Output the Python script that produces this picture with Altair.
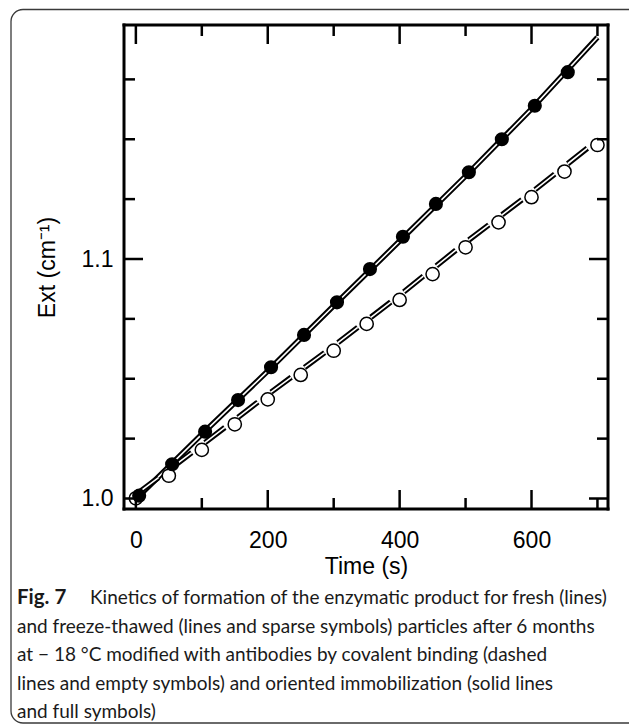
import altair as alt
import pandas as pd

# ---- data ----
filled_time = [5, 55, 105, 155, 205, 255, 305, 355, 405, 455, 505, 555, 605, 655]
filled_ext = [1.0012, 1.0143, 1.0279, 1.0411, 1.0548, 1.0683, 1.0819, 1.0958,
              1.1093, 1.1230, 1.1362, 1.1500, 1.1640, 1.1780]

empty_time = [0, 50, 100, 150, 200, 250, 300, 350, 400, 450, 500, 550, 600, 650, 700]
empty_ext = [1.0001, 1.0095, 1.0203, 1.0310, 1.0414, 1.0516, 1.0617, 1.0729,
             1.0829, 1.0937, 1.1049, 1.1153, 1.1258, 1.1365, 1.1476]

solid_time = [0, 100, 200, 300, 400, 500, 600, 700]
solid_ext = [0.9998, 1.0268, 1.0532, 1.0805, 1.1075, 1.1346, 1.1627, 1.1925]

dashed_time = [0, 100, 200, 300, 400, 500, 600, 700]
dashed_ext = [1.0016, 1.0223, 1.0434, 1.0637, 1.0849, 1.1069, 1.1278, 1.1496]

x_label_vals = [0, 200, 400, 600]
x_major = [0, 200, 400, 600]
x_minor = [100, 300, 500, 700]
y_label_vals = [1.0, 1.1]
y_major = [1.0, 1.1]
y_minor = [1.025, 1.05, 1.075, 1.125, 1.15, 1.175]

caption_bold = "Fig. 7"
caption_lines = [
    "Kinetics of formation of the enzymatic product for fresh (lines)",
    "and freeze-thawed (lines and sparse symbols) particles after 6 months",
    "at \u2212 18 \u00b0C modified with antibodies by covalent binding (dashed",
    "lines and empty symbols) and oriented immobilization (solid lines",
    "and full symbols)",
]

# ---- layout ----
W, H = 484, 484
AXF = "Liberation Sans"
CAPF = "Lato"

xs = alt.Scale(domain=[-18, 716], nice=False, zero=False)
ys = alt.Scale(domain=[0.99562, 1.1977], nice=False, zero=False)

xaxis = alt.Axis(values=x_label_vals, labelFont=AXF, labelFontSize=23, labelColor="black",
                 ticks=False, tickSize=0, domain=False, grid=False, labelPadding=20,
                 title="Time (s)", titleFont=AXF, titleFontSize=23, titleFontWeight="normal",
                 titleColor="black", titlePadding=3)
yaxis = alt.Axis(values=y_label_vals, format=".1f", labelFont=AXF, labelFontSize=23,
                 labelColor="black", ticks=False, tickSize=0, domain=False, grid=False,
                 labelPadding=11, title="Ext (cm\u207b\u00b9)", titleFont=AXF, titleFontSize=23,
                 titleFontWeight="normal", titleColor="black", titlePadding=22)


def X(f="t"):
    return alt.X(f, type="quantitative", scale=xs, axis=xaxis)


def Y(f="v"):
    return alt.Y(f, type="quantitative", scale=ys, axis=yaxis)


df_f = pd.DataFrame({"t": filled_time, "v": filled_ext})
df_e = pd.DataFrame({"t": empty_time, "v": empty_ext})
df_s = pd.DataFrame({"t": solid_time, "v": solid_ext})
df_d = pd.DataFrame({"t": dashed_time, "v": dashed_ext})
one = pd.DataFrame({"a": [0]})

border = alt.Chart(one).mark_rect(fillOpacity=0, stroke="#3a3a3a", strokeWidth=1.3,
                                  cornerRadius=12).encode(
    x=alt.value(-113), x2=alt.value(520), y=alt.value(-15.5), y2=alt.value(698))

solid_b = alt.Chart(df_s).mark_line(color="black", strokeWidth=5.5).encode(x=X(), y=Y())
solid_w = alt.Chart(df_s).mark_line(color="white", strokeWidth=1.6).encode(x=X(), y=Y())

dash = [25, 16.6]
dash_b = alt.Chart(df_d).mark_line(color="black", strokeWidth=5.5, strokeDash=dash,
                                   strokeDashOffset=38.3, strokeCap="butt").encode(x=X(), y=Y())
dash_w = alt.Chart(df_d).mark_line(color="white", strokeWidth=1.6, strokeDash=dash,
                                   strokeDashOffset=38.3, strokeCap="butt").encode(x=X(), y=Y())

pts_e = alt.Chart(df_e).mark_point(shape="circle", filled=True, fill="white", stroke="black",
                                   strokeWidth=1.5, size=175, opacity=1).encode(x=X(), y=Y())
pts_f = alt.Chart(df_f).mark_point(shape="circle", filled=True, color="black",
                                   size=200, opacity=1).encode(x=X(), y=Y())

# frame drawn as four rules
fw = 3
frame = [
    alt.Chart(one).mark_rule(color="black", strokeWidth=fw, strokeCap="square").encode(
        x=alt.value(0.01), x2=alt.value(W), y=alt.value(0.01)),
    alt.Chart(one).mark_rule(color="black", strokeWidth=fw, strokeCap="square").encode(
        x=alt.value(0.01), x2=alt.value(W), y=alt.value(H)),
    alt.Chart(one).mark_rule(color="black", strokeWidth=fw, strokeCap="square").encode(
        y=alt.value(0.01), y2=alt.value(H), x=alt.value(0.01)),
    alt.Chart(one).mark_rule(color="black", strokeWidth=fw, strokeCap="square").encode(
        y=alt.value(0.01), y2=alt.value(H), x=alt.value(W)),
]

tw = 2.5
MAJ, MIN = 19, 11
df_xM = pd.DataFrame({"t": x_major})
df_xm = pd.DataFrame({"t": x_minor})
df_yM = pd.DataFrame({"v": y_major})
df_ym = pd.DataFrame({"v": y_minor})

ticks = []
for dfx, ln in ((df_xM, MAJ), (df_xm, MIN)):
    ticks.append(alt.Chart(dfx).mark_rule(color="black", strokeWidth=tw).encode(
        x=X(), y=alt.value(H), y2=alt.value(H - ln)))
    ticks.append(alt.Chart(dfx).mark_rule(color="black", strokeWidth=tw).encode(
        x=X(), y=alt.value(0.01), y2=alt.value(ln)))
for dfy, ln in ((df_yM, MAJ), (df_ym, MIN)):
    ticks.append(alt.Chart(dfy).mark_rule(color="black", strokeWidth=tw).encode(
        y=Y(), x=alt.value(0.01), x2=alt.value(ln)))
    ticks.append(alt.Chart(dfy).mark_rule(color="black", strokeWidth=tw).encode(
        y=Y(), x=alt.value(W), x2=alt.value(W - ln)))

cap_x = 17 - 124
cap_y0 = 598 - 25
cap_dy = 28.5
caps = [alt.Chart(one).mark_text(align="left", baseline="middle", font=CAPF, fontSize=20.5,
                                 fontWeight="bold", color="#1a1a1a").encode(
    x=alt.value(cap_x), y=alt.value(cap_y0), text=alt.value(caption_bold))]
for i, line in enumerate(caption_lines):
    xx = 90 - 124 if i == 0 else cap_x
    caps.append(alt.Chart(one).mark_text(align="left", baseline="middle", font=CAPF,
                                         fontSize=19, color="#1a1a1a").encode(
        x=alt.value(xx), y=alt.value(cap_y0 + i * cap_dy), text=alt.value(line)))

chart = alt.layer(border, solid_b, solid_w, dash_b, dash_w, pts_e, pts_f, *frame, *ticks,
                  *caps).properties(
    width=W, height=H,
    autosize=alt.AutoSizeParams(type="none"),
    padding={"left": 124, "top": 25, "right": 21, "bottom": 216},
).configure_view(strokeWidth=0).configure(background="white")

chart.save("out.html", embed_options={"renderer": "svg", "actions": False})
